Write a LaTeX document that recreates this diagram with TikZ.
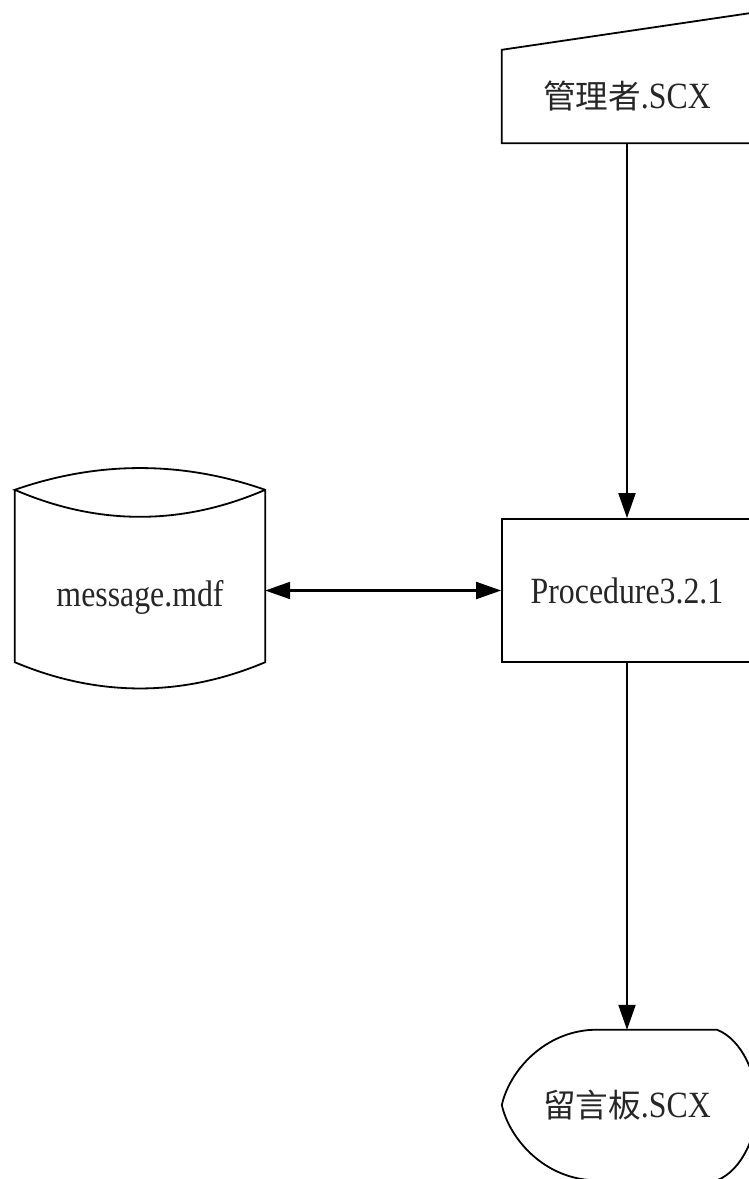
\documentclass[tikz,border=0pt]{standalone}
\usepackage{fontspec}
\setmainfont{Liberation Serif}[FakeStretch=0.86]
\newfontfamily\cjkfont{Noto Sans CJK TC}[Scale=0.88]
\usetikzlibrary{arrows.meta,positioning}

\begin{document}
\begin{tikzpicture}[
    x=1pt, y=-1pt,
    every node/.style={font=\fontsize{37}{44}\selectfont, text=black!85},
    shapebox/.style={minimum width=250pt, inner sep=0pt},
    outline/.style={draw=black, line width=1.8pt},
    >={Triangle[length=25pt,width=17pt]},
    link/.style={->, draw=black, line width=2.1pt},
  ]
    % Page: 749 x 1179, shapes on the right run past the edge
    \useasboundingbox (0,0) rectangle (749,1179);
    \clip (0,0) rectangle (749,1179);

    % Manual input: admin
    \node[shapebox, minimum height=93pt] (admin) at (627,96.5) {{\cjkfont 管理者}.SCX};
    \draw[outline] (admin.south west) -- (admin.north west)
      -- ([shift={(0,-37)}]admin.north east) -- (admin.south east) -- cycle;

    % Process
    \node[shapebox, outline, minimum height=143pt] (proc) at (627,590.5) {Procedure3.2.1};

    % Stored data: message db
    \node[shapebox, minimum height=172pt] (db) at (140,576) {};
    \node (dblabel) at (140,597) {message.mdf};
    \draw[outline] (db.north west) -- (db.south west)
      .. controls ([shift={(83,35)}]db.south west) and ([shift={(-83,35)}]db.south east) .. (db.south east)
      -- (db.north east)
      .. controls ([shift={(-83,-29)}]db.north east) and ([shift={(83,-29)}]db.north west) .. (db.north west)
      .. controls ([shift={(83,36)}]db.north west) and ([shift={(-83,36)}]db.north east) .. (db.north east);

    % Display: board
    \node[shapebox, minimum height=150pt] (board) at (627,1105) {{\cjkfont 留言板}.SCX};
    \draw[outline] ([shift={(91,0)}]board.north west) -- ([shift={(-35,0)}]board.north east)
      .. controls ([shift={(-10,10)}]board.north east) and ([shift={(5,-30)}]board.east) .. ([shift={(5,0)}]board.east)
      .. controls ([shift={(5,30)}]board.east) and ([shift={(-10,-10)}]board.south east) .. ([shift={(-35,0)}]board.south east)
      -- ([shift={(91,0)}]board.south west)
      .. controls ([shift={(43,-2)}]board.south west) and ([shift={(8,35)}]board.west) .. (board.west)
      .. controls ([shift={(8,-35)}]board.west) and ([shift={(43,2)}]board.north west) .. ([shift={(91,0)}]board.north west);

    % Connectors
    \draw[link] (admin.south) -- (proc.north);
    \draw[link, <->] (db.east |- proc.west) -- (proc.west);
    \draw[link] (proc.south) -- (board.north);

  \end{tikzpicture}
\end{document}
